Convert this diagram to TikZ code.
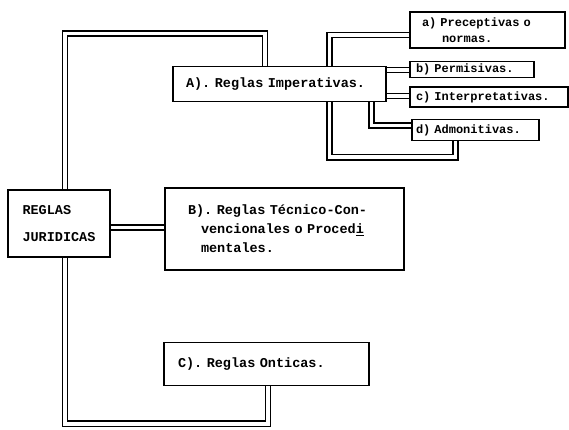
\documentclass[tikz,border=0pt]{standalone}
\usepackage{fontspec}
\usetikzlibrary{backgrounds}
\newfontfamily\twfont{Liberation Mono}[WordSpace={1,0,0}]
\newcommand\twspacing{\spaceskip=.6em\relax\xspaceskip=.6em\relax}

\begin{document}
\begin{tikzpicture}[x=1pt, y=-1pt,
  box/.style={rectangle, draw, line width=1.5pt, align=left, inner ysep=0.5pt,
    font=\twfont\bfseries\fontsize{13.5}{16}\selectfont\twspacing},
  subbox/.style={box, font=\twfont\bfseries\fontsize{12}{14.5}\selectfont\twspacing},
  dbl/.style={draw, line width=1.6pt, double, double distance=3.5pt}
]
  \useasboundingbox (0,0) rectangle (569,430);

  \node[box, text width=73pt, inner xsep=14.5pt, minimum height=67pt] (jur) at (59,223.5)
    {REGLAS\\[11pt]JURIDICAS};
  \node[box, text width=187pt, inner xsep=13pt, minimum height=35pt] (imp) at (279.5,84)
    {A). Reglas Imperativas.};
  \node[box, text width=193pt, inner xsep=23pt, minimum height=82pt] (tec) at (284.5,229)
    {B). Reglas T\'ecnico-Con-\\[3pt]
     \hspace*{13pt}vencionales o Proced\underline{i}\\[3pt]
     \hspace*{13pt}mentales.};
  \node[box, text width=177pt, inner xsep=14pt, minimum height=43pt] (ont) at (266.5,364)
    {C). Reglas Onticas.};

  \node[subbox, text width=131pt, inner xsep=12pt, minimum height=36pt] (pre) at (487.5,30)
    {a) Preceptivas o\\[1pt]\hspace*{20pt}normas.};
  \node[subbox, text width=112pt, inner xsep=6pt, minimum height=16pt] (per) at (472,69.5)
    {b) Permisivas.};
  \node[subbox, text width=146pt, inner xsep=6pt, minimum height=20pt] (int) at (489,97)
    {c) Interpretativas.};
  \node[subbox, text width=119pt, inner xsep=4pt, minimum height=21pt] (adm) at (475.5,130)
    {d) Admonitivas.};

  \begin{scope}[on background layer]
    \draw[dbl] ([xshift=6pt]jur.north) -- ++(0,-155.5) -| ([xshift=-14.5pt]imp.north);
    \draw[dbl] (jur.east |- 0,227.5) -- (tec.west |- 0,227.5);
    \draw[dbl] ([xshift=6pt]jur.south) -- ++(0,166) -| ([xshift=1.5pt]ont.south);
    \draw[dbl] ([xshift=50pt]imp.north) |- (pre.west |- 0,35);
    \draw[dbl] (imp.east |- 0,70) -- (per.west |- 0,70);
    \draw[dbl] (imp.east |- 0,96) -- (int.west |- 0,96);
    \draw[dbl] ([xshift=92pt]imp.south) |- (adm.west |- 0,125.5);
    \draw[dbl] ([xshift=50pt]imp.south) -- ++(0,55) -| ([xshift=-20pt]adm.south);
  \end{scope}
\end{tikzpicture}
\end{document}
